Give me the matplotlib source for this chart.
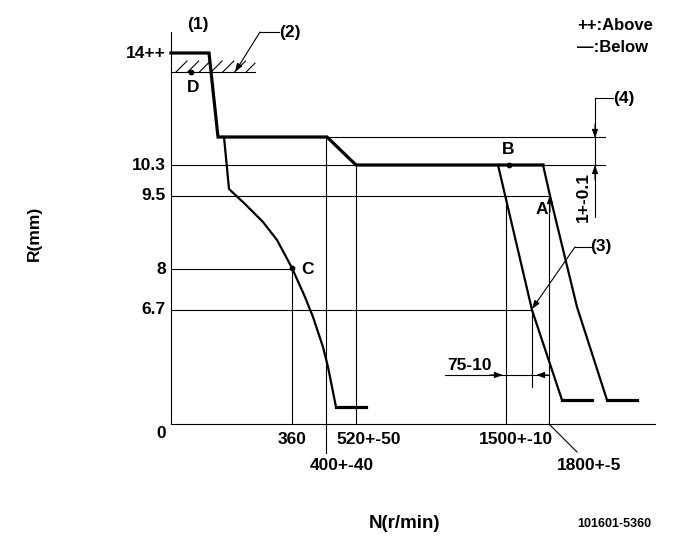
#!/usr/bin/env python3
"""Governor characteristic diagram (R vs N), 101601-5360."""
import matplotlib as mpl
import matplotlib.pyplot as plt
import numpy as np

# Schematic drawing: the N and R axes are not to scale, so every value
# below is given in drawing units (x to the right, y downward).
X0, Y0 = 171, 424          # origin of the diagram
X_END, Y_TOP = 655, 32     # end of N axis, top of R axis

# R axis labels and the levels they mark
r_labels = ["14++", "10.3", "9.5", "8", "6.7"]
r_levels = [53, 165, 196, 269, 310]
r_upper = 137              # upper stop level (dimension (4))

# N axis labels and the speeds they mark
n_labels = ["360", "400+-40", "520+-50", "1500+-10", "1800+-5"]
n_pos = [292, 326, 356, 506, 549]

# full-load / start curve (thick)
main_x = [X0, 209, 218, 327, 356, 543]
main_y = [53, 53, 137, 137, 165, 165]

# idle curve
idle_x = [224, 229, 245, 263, 277, 292, 305, 313, 323, 328, 336, 366]
idle_y = [137, 189, 204, 222, 240, 268, 297, 317, 347, 367, 407, 407]

# high-speed droop curves
droop1_x = [498, 532, 562, 592]
droop1_y = [165, 310, 400, 400]
droop2_x = [543, 551, 577, 607, 637]
droop2_y = [165, 200, 307, 400, 400]

# measuring points
pt_names = ["D", "C", "B"]
pt_x = [191, 292, 509]
pt_y = [72, 268, 165]


def main() -> None:
    mpl.rcParams.update({"font.family": ["Liberation Sans", "DejaVu Sans"],
                         "font.weight": "bold"})
    fig = plt.figure(figsize=(6.81, 5.49), dpi=100)
    ax = fig.add_axes([0, 0, 1, 1])
    ax.set_xlim(0, 681)
    ax.set_ylim(549, 0)
    ax.axis("off")

    k = "black"
    thin, mid, thick = 0.8, 1.6, 2.3
    fs = 12.5

    # axes
    ax.plot([X0, X0], [Y_TOP, Y0], color=k, lw=thin)
    ax.plot([X0, X_END], [Y0, Y0], color=k, lw=thin)

    # horizontal reference lines
    ax.plot([X0, 605], [r_levels[1]] * 2, color=k, lw=thin)
    ax.plot([218, 605], [r_upper] * 2, color=k, lw=thin)
    ax.plot([X0, 550], [r_levels[2]] * 2, color=k, lw=thin)
    ax.plot([X0, n_pos[0]], [r_levels[3]] * 2, color=k, lw=thin)
    ax.plot([X0, 532], [r_levels[4]] * 2, color=k, lw=thin)

    # vertical reference lines
    ax.plot([n_pos[0]] * 2, [r_levels[3], Y0], color=k, lw=thin)
    ax.plot([n_pos[1]] * 2, [r_upper, 453], color=k, lw=thin)
    ax.plot([n_pos[2]] * 2, [r_levels[1], Y0], color=k, lw=thin)
    ax.plot([n_pos[3]] * 2, [r_levels[2], Y0], color=k, lw=thin)
    ax.plot([n_pos[4]] * 2, [195, Y0], color=k, lw=thin)
    ax.plot([n_pos[4], 577], [Y0, 452], color=k, lw=thin)
    ax.plot([532, 532], [r_levels[4], 387], color=k, lw=thin)

    # stopper line (2) with hatching
    ax.plot([X0, 255], [72, 72], color=k, lw=thin)
    for hx in 176 + 11.7 * np.arange(7):
        x2 = min(hx + 11, 255)
        ax.plot([hx, x2], [72, 72 - 11 * (x2 - hx) / 11], color=k, lw=thin)

    # curves
    ax.plot(main_x, main_y, color=k, lw=thick, solid_joinstyle="miter")
    ax.plot(idle_x[:-1], idle_y[:-1], color=k, lw=mid)
    ax.plot(idle_x[-2:], idle_y[-2:], color=k, lw=thick)
    ax.plot(droop1_x[:-1], droop1_y[:-1], color=k, lw=mid)
    ax.plot(droop1_x[-2:], droop1_y[-2:], color=k, lw=thick)
    ax.plot(droop2_x[:-1], droop2_y[:-1], color=k, lw=mid)
    ax.plot(droop2_x[-2:], droop2_y[-2:], color=k, lw=thick)

    # points
    ax.scatter(pt_x, pt_y, s=10, color=k, zorder=5)
    ax.text(193, 87, "D", fontsize=fs, ha="center", va="center")
    ax.text(307, 269, "C", fontsize=fs, ha="center", va="center")
    ax.text(508, 150, "B", fontsize=fs, ha="center", va="center")
    ax.text(542, 209, "A", fontsize=fs, ha="center", va="center")

    arr = dict(arrowstyle="-|>,head_length=0.5,head_width=0.18", color=k,
               lw=thin, shrinkA=0, shrinkB=0)
    ax.annotate("", xy=(550, 195), xytext=(550, 212), arrowprops=arr)

    # tick labels
    for lab, y in zip(r_labels, r_levels):
        ax.text(166, y, lab, fontsize=fs, ha="right", va="center")
    ax.text(166, 433, "0", fontsize=fs, ha="right", va="center")
    ax.text(292, 440, n_labels[0], fontsize=fs, ha="center", va="center")
    ax.text(342, 465, n_labels[1], fontsize=fs, ha="center", va="center")
    ax.text(369, 440, n_labels[2], fontsize=fs, ha="center", va="center")
    ax.text(516, 440, n_labels[3], fontsize=fs, ha="center", va="center")
    ax.text(589, 465, n_labels[4], fontsize=fs, ha="center", va="center")

    # callouts
    ax.text(198, 25, "(1)", fontsize=fs, ha="center", va="center")
    ax.text(290, 32, "(2)", fontsize=fs, ha="center", va="center")
    ax.plot([260, 279], [32, 32], color=k, lw=thin)
    ax.annotate("", xy=(235, 72), xytext=(260, 32), arrowprops=arr)

    ax.text(601, 247, "(3)", fontsize=fs, ha="center", va="center")
    ax.plot([575, 591], [247, 247], color=k, lw=thin)
    ax.annotate("", xy=(532, 309), xytext=(575, 247), arrowprops=arr)

    ax.text(624, 99, "(4)", fontsize=fs, ha="center", va="center")
    ax.plot([595, 613], [98, 98], color=k, lw=thin)
    ax.plot([595, 595], [98, 217], color=k, lw=thin)
    ax.annotate("", xy=(595, 138), xytext=(595, 124), arrowprops=arr)
    ax.annotate("", xy=(595, 165), xytext=(595, 180), arrowprops=arr)
    ax.text(583, 197, "1+-0.1", fontsize=fs, ha="center", va="center", rotation=90)

    # 75-10 dimension
    ax.plot([445, 548], [375, 375], color=k, lw=thin)
    ax.annotate("", xy=(503, 375), xytext=(490, 375), arrowprops=arr)
    ax.annotate("", xy=(536, 375), xytext=(548, 375), arrowprops=arr)
    ax.text(470, 365, "75-10", fontsize=fs, ha="center", va="center")

    # legend of signs
    ax.text(577, 26, "++:Above", fontsize=12, ha="left", va="center")
    ax.text(577, 48, "—:Below", fontsize=12, ha="left", va="center")

    # axis titles
    ax.text(34, 233, "R(mm)", fontsize=fs, ha="center", va="center", rotation=90)
    ax.text(404, 524, "N(r/min)", fontsize=13.5, ha="center", va="center")
    ax.text(614, 524, "101601-5360", fontsize=9, ha="center", va="center")

    fig.savefig("out.png", dpi=100)


if __name__ == "__main__":
    main()
